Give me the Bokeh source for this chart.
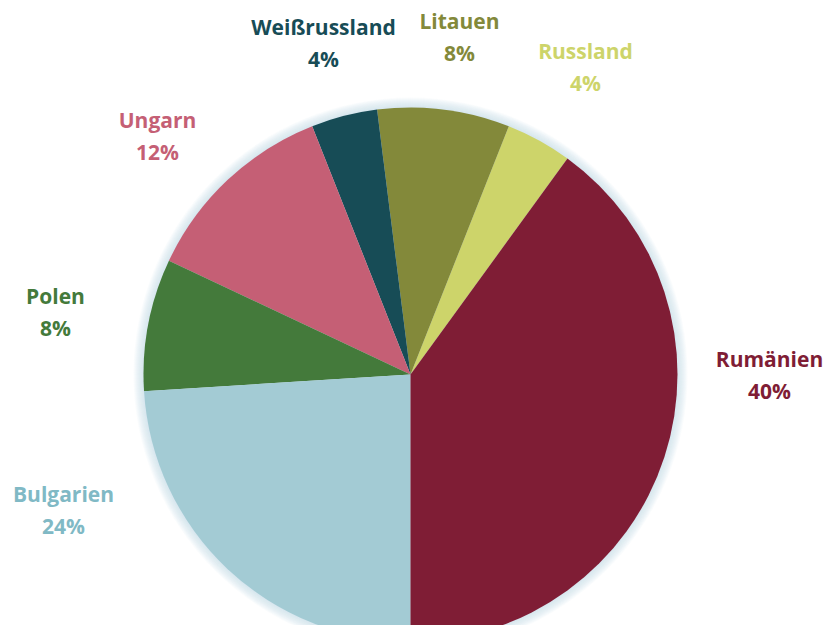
import math
from bokeh.plotting import figure
from bokeh.models import Range1d, ColumnDataSource
from bokeh.core.properties import value
from bokeh.embed import file_html
from bokeh.resources import INLINE

# data (anticlockwise order starting at the Russland/Rumänien border)
countries = ["Russland", "Litauen", "Weißrussland", "Ungarn", "Polen", "Bulgarien", "Rumänien"]
shares = [4, 8, 4, 12, 8, 24, 40]
fill_colors = ["#cdd46a", "#83893a", "#174c56", "#c55f75", "#447a3b", "#a3cbd4", "#7f1d35"]
label_colors = ["#cdd46a", "#83893a", "#174c56", "#c55f75", "#447a3b", "#80b9c5", "#7f1d35"]

# layout
START_DEG = 54.0
R = 267
label_dx = [175, 49, -87, -253, -355, -347, 359]
label_dy = [308, 338, 332, 239, 63, -135, 0]

total = sum(shares)
starts, ends = [], []
a = math.radians(START_DEG)
for s in shares:
    starts.append(a)
    a += s / total * 2 * math.pi
    ends.append(a)

src = ColumnDataSource(dict(
    start=starts, end=ends, color=fill_colors,
    name=countries, pct=[f"{s}%" for s in shares],
    lx=label_dx, ly_top=[d + 16 for d in label_dy], ly_bot=[d - 16 for d in label_dy],
    lcolor=label_colors,
))

W, H = 823, 625
p = figure(width=W, height=H, output_backend="svg", toolbar_location=None,
           x_range=Range1d(-410, -410 + W), y_range=Range1d(374 - H, 374),
           min_border=0)
p.axis.visible = False
p.grid.visible = False
p.outline_line_color = None
p.background_fill_color = "white"

# soft glow around the pie
for k in range(10, 0, -1):
    p.circle(x=[0], y=[0], radius=R + k, fill_color="#bcdde4", fill_alpha=0.08,
             line_color=None)

p.wedge(x=0, y=0, radius=R, start_angle="start", end_angle="end",
        fill_color="color", line_color=None, source=src)

for col in ("ly_top", "ly_bot"):
    p.text(x="lx", y=col, text="name" if col == "ly_top" else "pct",
           text_color="lcolor", source=src,
           text_font=value("Open Sans"), text_font_style="bold", text_font_size="21px",
           text_align="center", text_baseline="middle")

open("out.html", "w").write(file_html(p, INLINE))
